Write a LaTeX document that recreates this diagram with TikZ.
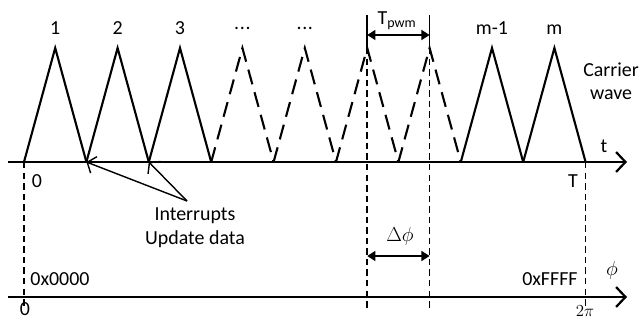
\documentclass[tikz,border=0pt]{standalone}
\usepackage{fontspec}
\setmainfont{Carlito}
\usetikzlibrary{arrows.meta}

\newcommand{\moredots}{\raisebox{4.5pt}{.\kern0.6pt.\kern0.6pt.}}

\begin{document}
\begin{tikzpicture}[x=0.03cm,y=-0.03cm,
  wave/.style={line width=1.8pt},
  dashwave/.style={wave,dash pattern=on 13pt off 7pt},
  guide/.style={line width=1.3pt,dash pattern=on 5.5pt off 3.5pt},
  axis/.style={line width=1.9pt,-{Straight Barb[length=8pt,width=17pt,line width=1.9pt]}},
  pointer/.style={line width=1.2pt,-{Straight Barb[length=6pt,width=15pt,line width=1.2pt]}},
  dim/.style={line width=1.5pt,{Triangle[length=7pt,width=8.5pt]}-{Triangle[length=7pt,width=8.5pt]}},
  lbl/.style={font=\fontsize{17}{20}\selectfont,inner sep=1pt}]
  \useasboundingbox (0,0) rectangle (641,320);
  % axes
  \coordinate (ts) at (8,162);
  \coordinate (te) at (627,162);
  \coordinate (fs) at (8,297);
  \coordinate (fe) at (627,297);
  \coordinate (low) at (0,309);
  \coordinate (mid) at (0,256);
  \draw[axis] (ts) -- (te);
  \draw[axis] (fs) -- (fe);
  % carrier wave
  \foreach \i in {0,...,9}
    \coordinate (b\i) at ({24+62.4*\i},162);
  \foreach \i in {1,...,9}
    \coordinate (p\i) at ({24+62.4*(\i-0.5)},48);
  \foreach \i [evaluate=\i as \j using int(\i-1)] in {1,2,3,8,9}
    \draw[wave] (b\j) -- (p\i) -- (b\i);
  \foreach \i [evaluate=\i as \j using int(\i-1)] in {4,...,7}
    \draw[dashwave] (b\j) -- (p\i) -- (b\i);
  \foreach \i/\t in {1/1,2/2,3/3,4/\moredots,5/\moredots,8/m-1,9/m}
    \path (p\i) ++(0,-13) node[lbl,anchor=base] (lab\i) {\t};
  % period
  \path (p6) ++(0,-33) coordinate (t6) ++(0,20) coordinate (a6);
  \path (p7) ++(0,-33) coordinate (t7) ++(0,20) coordinate (a7);
  \draw[line width=1.3pt] (p6) -- (t6);
  \draw[line width=1.3pt] (p7) -- (t7);
  \draw[dim] (a6) -- (a7);
  \node[lbl] (tpwm) at (397,21) {T\textsubscript{pwm}};
  % guides
  \draw[guide] (b0) -- (b0 |- low);
  \draw[guide] (b9) -- (b9 |- low);
  \draw[guide] (p6) -- (p6 |- low);
  \draw[guide] (p7) -- (p7 |- low);
  \draw[dim] (p6 |- mid) -- (p7 |- mid);
  \node[lbl] (dphi) at (400,236) {$\Delta\phi$};
  % interrupts
  \coordinate (irq) at (187,201);
  \draw[pointer] (irq) -- (b1);
  \draw[pointer] (irq) -- (b2);
  \node[lbl,align=center,anchor=north,font=\fontsize{17}{21}\selectfont] (note) at (195,206) {Interrupts\\Update data};
  % labels
  \node[lbl,align=center,inner sep=0pt] (carrier) at (611,81) {Carrier\\wave};
  \node[lbl] (tlab) at (604,146) {t};
  \node[lbl] (zero) at (37,181) {0};
  \node[lbl] (tend) at (573,181) {T};
  \node[lbl,anchor=west] (hlo) at (29,279) {0x0000};
  \node[lbl,anchor=east] (hhi) at (579,279) {0xFFFF};
  \node[lbl] (philab) at (612,270) {$\phi$};
  \node[lbl,inner sep=0pt] (zphi) at (25,309) {0};
  \node[lbl,font=\fontsize{14}{16}\selectfont] (twopi) at (585,311) {$2\pi$};
\end{tikzpicture}
\end{document}
